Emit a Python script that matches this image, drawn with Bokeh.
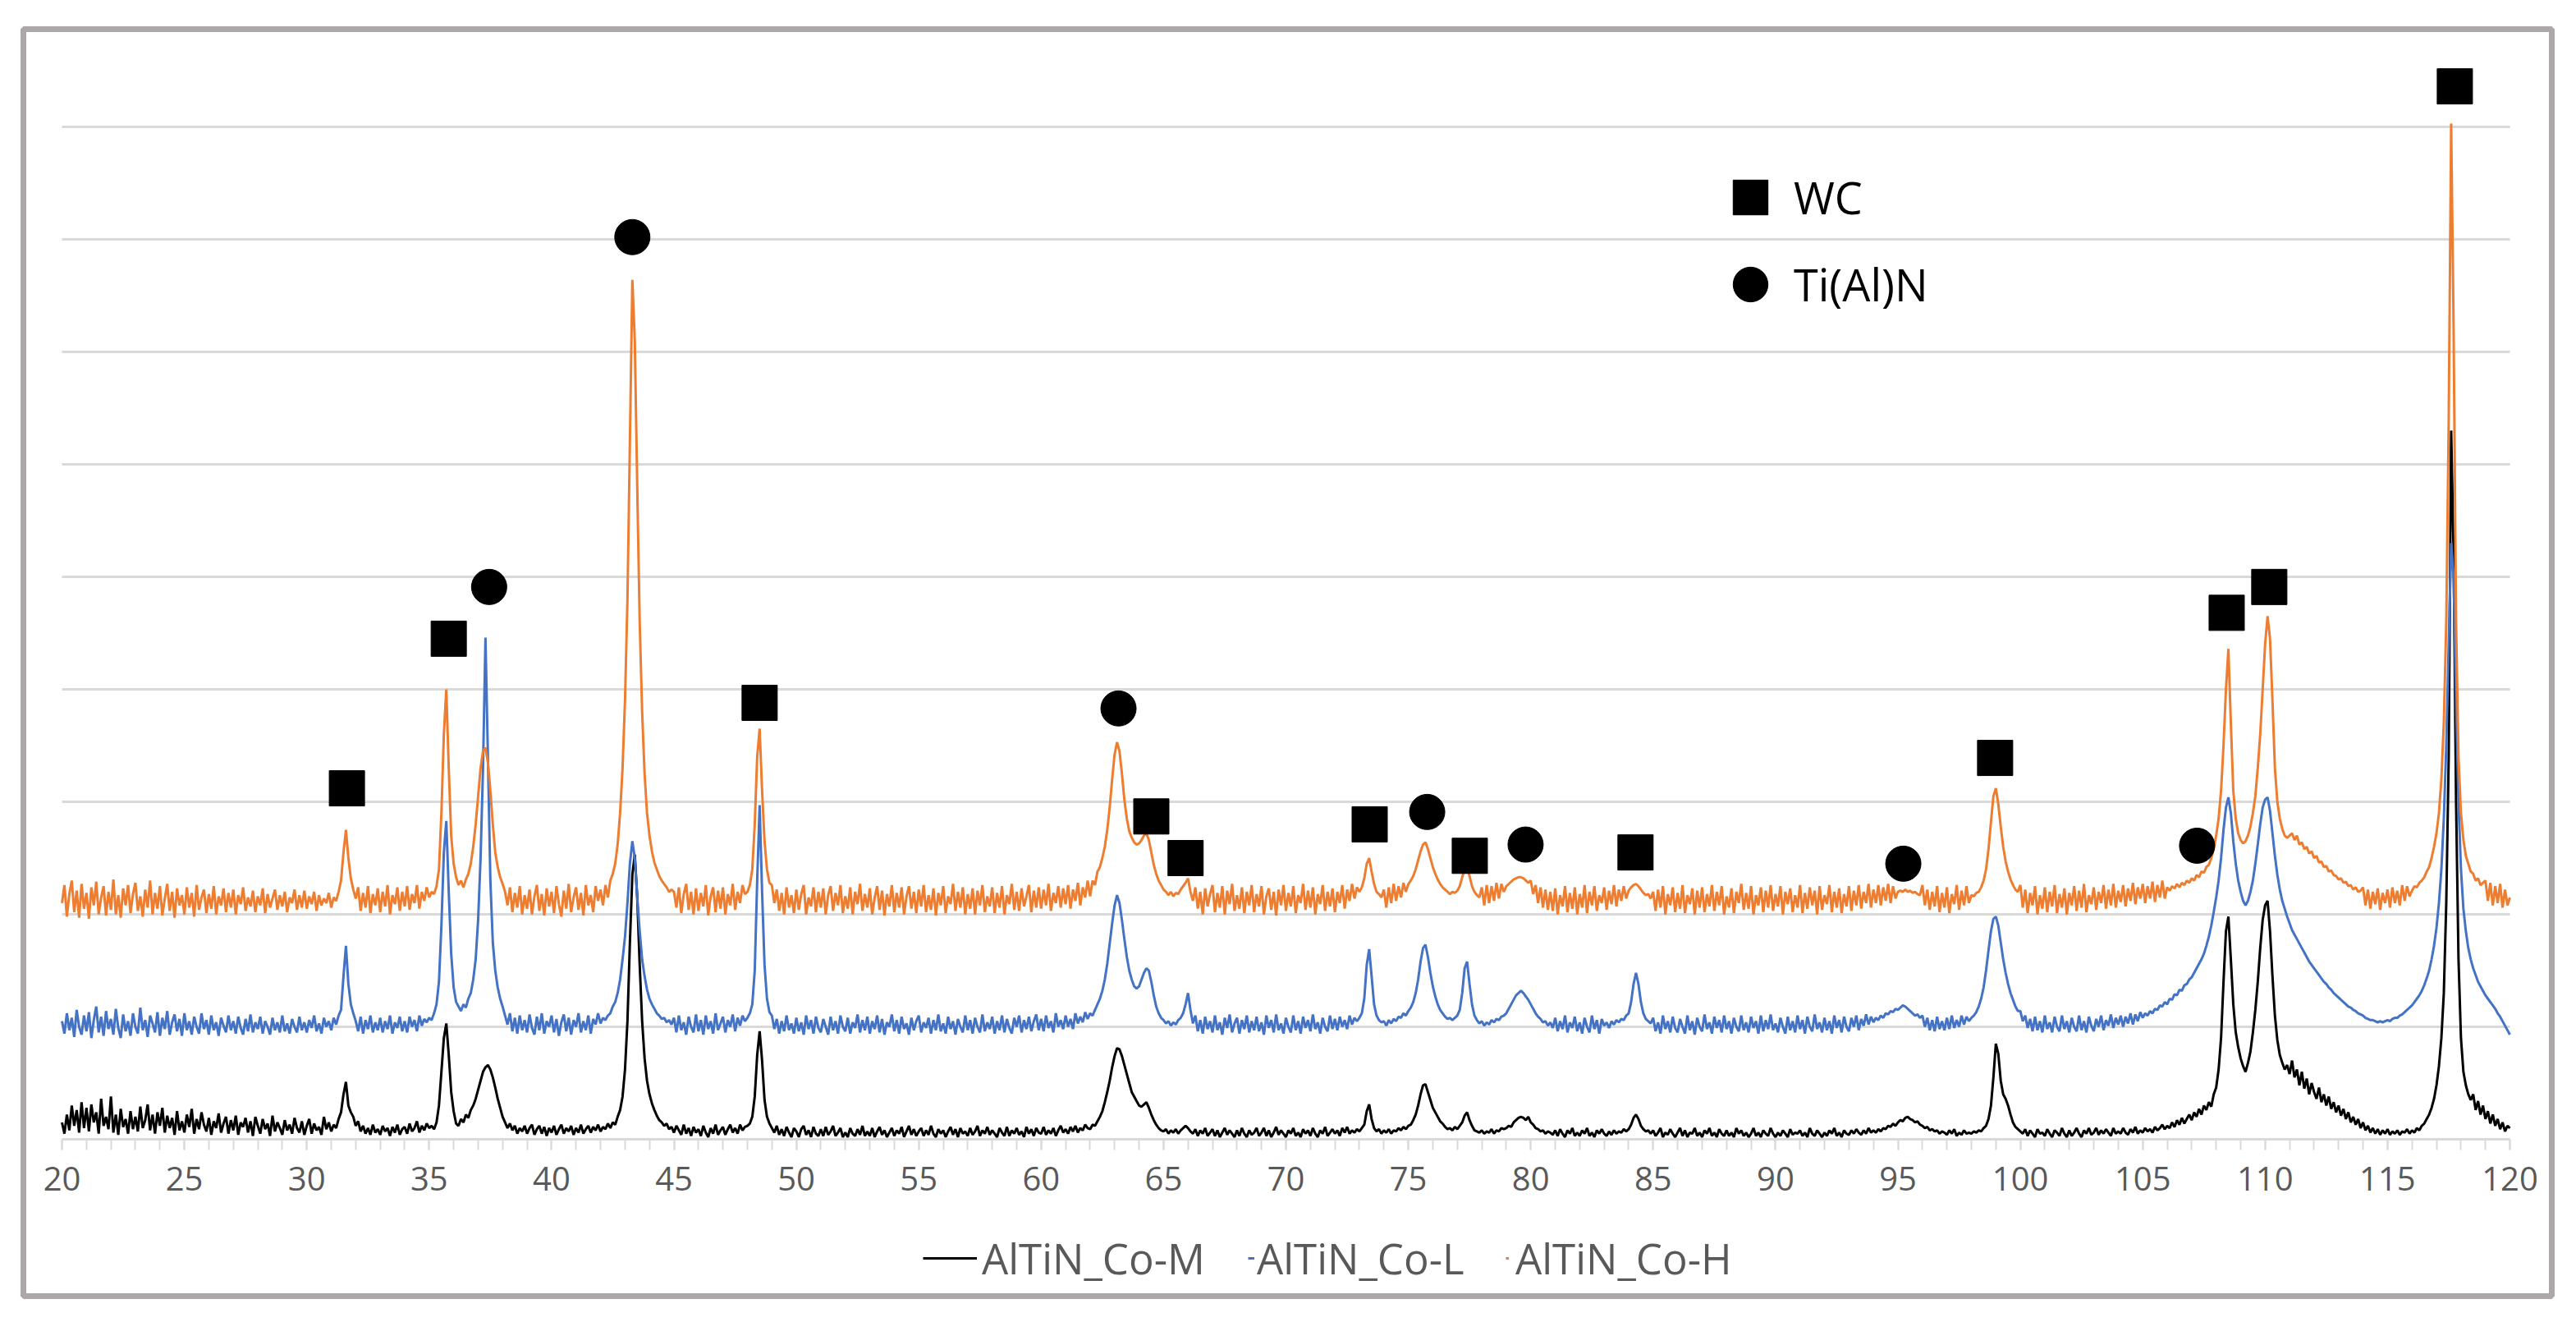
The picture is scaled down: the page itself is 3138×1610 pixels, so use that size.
from bokeh.plotting import figure
from bokeh.models import Range1d, FixedTicker, Legend, LegendItem
from bokeh.embed import file_html
from bokeh.resources import INLINE

# ---------------- data: intensities, 2theta 20..120 step 0.1 ----------------
two_theta_start = 20.0
two_theta_step = 0.1

co_m = [
.15,.05,.22,.08,.30,.12,.26,.06,.33,.10,  # 20
.28,.07,.31,.15,.24,.05,.36,.12,.20,.09,
.38,.06,.22,.04,.27,.11,.18,.05,.25,.09,
.20,.07,.29,.10,.17,.31,.08,.22,.05,.24,
.12,.28,.06,.21,.10,.19,.04,.25,.08,.16,
.06,.22,.11,.27,.05,.18,.09,.24,.13,.07,  # 25
.19,.04,.16,.10,.23,.06,.14,.20,.05,.17,
.08,.21,.04,.15,.11,.19,.06,.16,.03,.20,
.12,.05,.18,.09,.14,.03,.21,.07,.15,.10,
.04,.17,.08,.13,.05,.19,.10,.06,.16,.04,
.12,.18,.05,.14,.08,.11,.04,.20,.09,.15,  # 30
.07,.13,.10,.18,.24,.40,.51,.30,.24,.20,
.12,.16,.07,.12,.05,.10,.04,.13,.06,.09,
.04,.12,.07,.10,.03,.11,.06,.13,.04,.09,
.11,.05,.14,.07,.10,.16,.06,.12,.08,.14,
.10,.12,.09,.15,.30,.60,.90,1.03,.75,.42,  # 35
.25,.14,.12,.18,.15,.22,.19,.26,.30,.36,
.44,.52,.60,.64,.66,.62,.55,.46,.36,.28,
.20,.15,.10,.14,.08,.12,.05,.10,.07,.12,
.05,.10,.13,.04,.09,.12,.05,.11,.03,.10,
.06,.12,.04,.09,.13,.05,.10,.07,.12,.04,  # 40
.10,.06,.13,.05,.09,.12,.06,.11,.08,.13,
.07,.11,.09,.14,.10,.15,.13,.20,.26,.38,
.62,1.05,1.75,2.35,2.53,2.15,1.55,1.05,.72,.52,
.40,.32,.26,.21,.17,.15,.12,.14,.09,.11,
.06,.12,.08,.04,.13,.05,.10,.03,.11,.06,  # 45
.09,.03,.12,.06,.02,.10,.05,.13,.04,.08,
.11,.04,.09,.13,.06,.10,.05,.13,.08,.11,
.12,.14,.20,.38,.75,.96,.70,.35,.20,.14,
.10,.06,.12,.04,.09,.03,.11,.06,.02,.10,
.07,.02,.09,.12,.04,.08,.02,.11,.05,.03,  # 50
.09,.03,.11,.04,.07,.12,.03,.06,.10,.02,
.06,.02,.10,.05,.03,.09,.04,.12,.03,.07,
.03,.10,.02,.07,.11,.04,.08,.02,.06,.10,
.03,.08,.05,.11,.02,.07,.12,.04,.09,.03,
.07,.10,.03,.08,.04,.12,.05,.02,.09,.05,  # 55
.08,.02,.07,.11,.04,.09,.02,.10,.05,.07,
.03,.10,.04,.07,.12,.03,.08,.05,.11,.04,
.08,.05,.02,.10,.06,.03,.11,.03,.08,.05,
.10,.04,.07,.02,.11,.05,.09,.03,.10,.06,
.05,.11,.04,.08,.05,.10,.03,.08,.12,.06,  # 60
.09,.05,.11,.07,.12,.06,.10,.08,.13,.10,
.09,.13,.12,.16,.20,.25,.33,.42,.52,.64,
.74,.81,.80,.74,.66,.58,.50,.42,.38,.34,
.30,.29,.31,.33,.28,.22,.17,.13,.10,.08,
.07,.09,.05,.08,.06,.09,.05,.08,.10,.12,  # 65
.10,.07,.05,.09,.03,.08,.05,.10,.03,.06,
.09,.03,.08,.02,.06,.10,.04,.08,.05,.02,
.08,.03,.10,.05,.02,.08,.04,.06,.10,.03,
.06,.10,.03,.08,.02,.06,.11,.04,.08,.05,
.02,.08,.05,.10,.03,.06,.02,.09,.05,.08,  # 70
.03,.10,.05,.02,.08,.05,.11,.03,.06,.09,
.05,.08,.03,.10,.06,.11,.05,.08,.06,.09,
.07,.10,.13,.25,.31,.18,.10,.07,.09,.05,
.08,.06,.09,.05,.08,.07,.10,.08,.11,.09,
.12,.13,.17,.22,.30,.40,.48,.49,.42,.35,  # 75
.28,.24,.20,.16,.14,.11,.09,.10,.08,.11,
.09,.12,.15,.21,.24,.17,.12,.08,.07,.06,
.08,.05,.07,.06,.09,.05,.08,.07,.10,.09,
.10,.12,.11,.15,.17,.19,.20,.19,.17,.20,
.15,.13,.10,.09,.07,.08,.05,.07,.06,.04,  # 80
.08,.03,.09,.05,.02,.08,.05,.10,.03,.06,
.03,.08,.05,.10,.03,.06,.02,.08,.05,.09,
.05,.03,.07,.04,.08,.05,.07,.06,.09,.07,
.09,.13,.19,.22,.18,.12,.09,.07,.08,.05,
.08,.03,.06,.10,.02,.06,.04,.09,.05,.02,  # 85
.06,.10,.03,.08,.02,.06,.05,.10,.03,.06,
.02,.08,.05,.10,.03,.06,.02,.09,.05,.03,
.08,.03,.06,.02,.10,.05,.08,.03,.06,.02,
.05,.10,.03,.06,.02,.08,.05,.03,.10,.05,
.02,.06,.03,.08,.05,.02,.09,.04,.06,.05,  # 90
.08,.03,.06,.02,.10,.05,.03,.08,.05,.02,
.06,.03,.08,.05,.10,.03,.06,.02,.08,.05,
.04,.08,.05,.09,.06,.04,.08,.05,.10,.06,
.08,.06,.09,.07,.10,.09,.12,.11,.14,.12,
.15,.17,.16,.19,.20,.18,.17,.15,.16,.13,  # 95
.12,.10,.11,.08,.09,.07,.08,.05,.07,.06,
.04,.08,.05,.09,.03,.06,.04,.08,.05,.06,
.05,.07,.06,.08,.07,.10,.12,.18,.30,.55,
.85,.76,.52,.40,.36,.30,.22,.15,.11,.09,
.07,.05,.09,.03,.08,.05,.02,.09,.05,.06,  # 100
.03,.09,.05,.02,.08,.06,.03,.10,.05,.02,
.08,.03,.06,.10,.05,.02,.08,.05,.10,.04,
.06,.10,.04,.08,.05,.09,.06,.03,.10,.05,
.07,.05,.10,.06,.04,.09,.06,.11,.05,.08,
.06,.10,.07,.09,.06,.11,.08,.10,.13,.09,  # 105
.12,.10,.15,.11,.17,.13,.19,.14,.18,.22,
.17,.24,.20,.27,.22,.30,.26,.33,.29,.40,
.46,.62,.90,1.40,1.85,1.98,1.60,1.20,.95,.82,
.72,.65,.60,.68,.78,.95,1.15,1.40,1.70,1.95,
2.08,2.12,1.85,1.45,1.10,.88,.75,.68,.62,.66,  # 110
.58,.70,.55,.62,.48,.60,.45,.54,.40,.50,
.42,.36,.46,.33,.40,.30,.38,.27,.33,.24,
.30,.21,.27,.18,.24,.15,.20,.13,.18,.10,
.15,.08,.12,.06,.10,.05,.09,.04,.08,.05,
.09,.04,.07,.05,.08,.04,.07,.06,.09,.05,  # 115
.08,.06,.10,.08,.12,.14,.18,.22,.28,.36,
.48,.65,.90,1.30,2.10,3.40,6.30,5.20,3.00,1.60,
.90,.60,.48,.40,.35,.40,.26,.34,.22,.30,
.18,.25,.14,.22,.12,.18,.09,.15,.07,.12,
.10]  # 120

co_l = [
1.05,.94,1.12,.97,1.08,.91,1.15,1.0,.93,1.1,  # 20
.96,1.13,.9,1.06,1.18,.95,1.09,.92,1.14,.98,
1.07,.93,1.16,.99,.9,1.11,.96,1.05,.92,1.12,
1.0,.94,1.17,.97,1.06,.91,1.1,1.03,.95,1.13,
.92,1.08,.98,1.14,.93,1.04,1.11,.96,1.07,.92,
1.12,.97,1.05,.93,1.09,1.0,.94,1.12,.98,1.06,  # 25
.93,1.1,.97,1.04,.92,1.08,1.01,.95,1.1,.97,
1.05,.94,1.09,.99,.93,1.07,.96,1.11,.95,1.04,
.98,1.09,.94,1.05,1.0,.93,1.08,.97,1.04,.95,
1.1,.96,1.03,.94,1.07,1.0,.95,1.09,.97,1.04,
.95,1.06,.99,1.1,.96,1.03,.94,1.08,1.0,1.05,  # 30
.97,1.08,1.02,1.1,1.15,1.45,1.72,1.38,1.2,1.12,
1.05,.96,1.09,.94,1.06,.98,1.1,.95,1.04,.97,
1.08,.95,1.05,.98,1.1,.94,1.04,.99,1.09,.96,
1.05,.95,1.09,1.0,1.06,.96,1.1,1.01,1.07,1.04,
1.08,1.06,1.12,1.2,1.4,1.9,2.55,2.83,2.2,1.65,  # 35
1.35,1.22,1.18,1.14,1.2,1.17,1.25,1.3,1.42,1.6,
1.95,2.5,3.3,4.46,3.4,2.3,1.75,1.5,1.35,1.25,
1.18,1.1,1.02,1.12,.96,1.08,.94,1.1,.97,1.06,
.95,1.11,.99,.93,1.09,.97,1.12,.94,1.05,1.0,
1.1,.95,1.07,.92,1.04,1.11,.96,1.08,.93,1.06,  # 40
1.0,1.12,.95,1.05,.97,1.1,.94,1.07,1.02,1.12,
1.03,1.08,1.06,1.1,1.12,1.18,1.22,1.3,1.42,1.6,
1.8,2.1,2.45,2.65,2.5,2.15,1.85,1.6,1.45,1.33,
1.25,1.2,1.16,1.12,1.1,1.07,1.08,1.04,1.06,1.02,
1.08,.95,1.1,.97,1.04,.93,1.09,1.0,.95,1.11,  # 45
.96,1.06,.93,1.1,.98,1.05,.94,1.12,.97,1.03,
1.09,.95,1.06,1.0,1.11,.96,1.08,1.01,1.1,1.05,
1.08,1.12,1.2,1.5,2.3,2.97,2.2,1.55,1.25,1.13,
1.1,.98,1.07,.94,1.05,.96,1.1,.97,1.03,.94,
1.08,.96,1.04,.93,1.1,.98,1.06,.94,1.09,.99,  # 50
.95,1.07,1.0,.93,1.09,.97,1.05,.94,1.1,1.0,
.96,1.08,.94,1.04,.99,1.11,.95,1.06,.97,1.09,
.94,1.05,.98,1.1,.95,1.07,.93,1.04,1.0,1.11,
.96,1.06,.94,1.09,.98,1.03,.93,1.08,.97,1.05,
1.1,.95,1.04,.99,1.08,.94,1.06,.97,1.11,.96,  # 55
1.03,.94,1.09,.98,1.05,.93,1.07,1.0,.95,1.1,
.97,1.06,.94,1.08,1.0,.95,1.11,.96,1.04,.98,
1.09,.94,1.05,.97,1.1,.95,1.07,.99,.94,1.08,
1.0,1.1,.95,1.06,.98,1.09,.96,1.05,1.11,.97,
1.07,.96,1.1,.99,1.05,.95,1.12,1.0,1.06,.98,  # 60
1.1,1.0,1.07,.98,1.12,1.03,1.09,1.04,1.13,1.07,
1.12,1.1,1.15,1.2,1.25,1.32,1.42,1.56,1.74,1.92,
2.08,2.17,2.1,1.95,1.78,1.62,1.5,1.42,1.36,1.34,
1.36,1.42,1.48,1.52,1.5,1.4,1.28,1.18,1.12,1.08,
1.06,1.03,1.05,1.01,1.04,1.02,1.06,1.08,1.12,1.2,  # 65
1.3,1.15,1.03,1.1,.96,1.06,.94,1.09,.98,1.05,
.95,1.1,.97,1.04,.93,1.08,.99,1.11,.95,1.03,
1.08,.94,1.06,.98,1.1,.95,1.05,.97,1.09,.96,
1.04,.93,1.1,.99,1.06,.95,1.11,.97,1.03,.94,
1.08,1.0,.95,1.1,.97,1.05,.94,1.09,.99,1.06,  # 70
.96,1.11,.98,1.04,.94,1.08,1.0,.96,1.1,.98,
1.07,.97,1.09,1.0,1.06,.98,1.1,1.02,1.08,1.05,
1.08,1.12,1.25,1.55,1.69,1.45,1.2,1.1,1.06,1.04,
1.05,1.01,1.06,1.03,1.07,1.05,1.09,1.08,1.12,1.1,
1.14,1.17,1.22,1.3,1.42,1.58,1.7,1.73,1.62,1.48,  # 75
1.36,1.27,1.2,1.15,1.12,1.09,1.07,1.08,1.06,1.08,
1.1,1.15,1.3,1.52,1.58,1.38,1.2,1.1,1.06,1.03,
1.05,1.01,1.04,1.02,1.06,1.04,1.07,1.06,1.09,1.1,
1.12,1.16,1.2,1.24,1.28,1.3,1.32,1.3,1.27,1.24,
1.2,1.16,1.12,1.09,1.07,1.04,1.05,1.01,1.04,.99,  # 80
1.08,.96,1.05,.98,1.1,.95,1.04,.99,1.09,.96,
1.04,.94,1.08,1.0,.95,1.1,.98,1.06,.94,1.07,
1.01,1.04,.99,1.05,1.02,1.06,1.04,1.07,1.06,1.1,
1.12,1.22,1.38,1.48,1.38,1.22,1.12,1.07,1.05,1.03,
1.08,.96,1.04,.94,1.1,.98,1.05,.95,1.09,.99,  # 85
.95,1.07,1.0,.94,1.1,.97,1.05,.93,1.08,1.0,
.96,1.11,.98,1.04,.94,1.09,.99,1.06,.95,1.1,
.98,1.05,.94,1.08,1.0,.96,1.1,.97,1.04,.95,
1.09,.99,1.05,.94,1.1,.96,1.06,.98,1.11,.97,
1.03,.95,1.08,1.0,.94,1.09,.97,1.05,.95,1.1,  # 90
.98,1.06,.94,1.09,1.0,.96,1.11,.98,1.04,.95,
1.08,.97,1.05,.94,1.1,.99,1.06,.95,1.09,1.0,
.96,1.08,1.0,1.1,.97,1.07,1.01,1.11,1.02,1.09,
1.04,1.08,1.06,1.1,1.08,1.12,1.11,1.14,1.13,1.16,
1.15,1.17,1.19,1.18,1.16,1.14,1.12,1.1,1.11,1.08,  # 95
1.1,1.0,1.08,.97,1.06,.96,1.09,.98,1.05,.97,
1.08,.98,1.1,.99,1.06,1.0,1.1,1.02,1.09,1.05,
1.08,1.1,1.13,1.18,1.25,1.35,1.5,1.68,1.85,1.96,
1.98,1.9,1.75,1.6,1.48,1.38,1.3,1.24,1.18,1.14,
1.14,1.05,1.1,.99,1.07,.96,1.09,.97,1.05,.95,  # 100
1.1,.98,1.04,.95,1.09,1.0,.96,1.1,.98,1.05,
.95,1.08,1.0,.96,1.1,.97,1.05,.95,1.09,1.01,
.96,1.07,1.0,1.1,.97,1.06,1.01,1.11,.99,1.08,
1.02,1.1,1.0,1.09,1.03,1.12,1.02,1.11,1.05,1.13,
1.08,1.12,1.1,1.14,1.12,1.16,1.15,1.19,1.18,1.22,  # 105
1.2,1.25,1.24,1.29,1.28,1.33,1.32,1.37,1.38,1.42,
1.44,1.48,1.52,1.56,1.6,1.65,1.72,1.8,1.9,2.02,
2.15,2.3,2.5,2.75,2.95,3.04,2.9,2.65,2.45,2.3,
2.2,2.12,2.08,2.12,2.2,2.3,2.45,2.62,2.8,2.95,
3.02,3.04,2.92,2.72,2.52,2.35,2.22,2.12,2.05,1.98,  # 110
1.92,1.86,1.82,1.78,1.74,1.7,1.66,1.62,1.58,1.55,
1.52,1.49,1.46,1.43,1.4,1.38,1.35,1.33,1.3,1.28,
1.26,1.24,1.22,1.2,1.18,1.17,1.15,1.14,1.12,1.11,
1.1,1.08,1.07,1.06,1.06,1.05,1.04,1.05,1.04,1.05,
1.06,1.05,1.07,1.08,1.08,1.1,1.11,1.13,1.15,1.17,  # 115
1.19,1.22,1.25,1.28,1.32,1.37,1.43,1.5,1.6,1.72,
1.88,2.1,2.4,2.85,3.5,4.4,5.3,5.0,3.9,3.0,
2.4,2.05,1.85,1.7,1.6,1.52,1.46,1.4,1.36,1.32,
1.28,1.25,1.22,1.19,1.16,1.12,1.09,1.05,1.01,.97,
.93]  # 120

co_h = [
2.1,2.26,1.98,2.18,2.3,2.02,2.21,1.97,2.27,2.05,  # 20
2.19,1.96,2.24,2.08,2.29,2.0,2.15,2.25,1.99,2.2,
2.04,2.31,2.0,2.17,1.97,2.23,2.08,2.26,2.01,2.18,
2.28,2.03,2.16,1.98,2.22,2.06,2.3,2.0,2.19,2.05,
2.25,1.99,2.14,2.27,2.03,2.2,1.97,2.23,2.08,2.17,
2.0,2.24,2.06,2.19,1.98,2.26,2.04,2.15,2.22,2.01,  # 25
2.18,2.05,2.25,2.0,2.16,2.08,2.23,2.02,2.19,2.06,
2.22,2.0,2.17,2.09,2.24,2.03,2.15,2.07,2.21,2.02,
2.16,2.08,2.23,2.01,2.18,2.06,2.14,2.22,2.04,2.17,
2.07,2.2,2.02,2.15,2.1,2.22,2.04,2.17,2.06,2.21,
2.05,2.16,2.09,2.2,2.03,2.17,2.08,2.14,2.1,2.19,  # 30
2.06,2.15,2.12,2.2,2.3,2.55,2.75,2.5,2.32,2.22,
2.14,2.24,2.03,2.19,2.06,2.25,2.01,2.18,2.08,2.23,
2.02,2.2,2.07,2.26,2.0,2.17,2.09,2.24,2.03,2.2,
2.07,2.25,2.04,2.18,2.1,2.26,2.05,2.2,2.12,2.24,
2.15,2.2,2.18,2.25,2.4,2.9,3.6,4.0,3.3,2.7,  # 35
2.45,2.33,2.26,2.3,2.24,2.31,2.36,2.45,2.6,2.8,
3.05,3.3,3.45,3.48,3.35,3.1,2.8,2.55,2.42,2.33,
2.27,2.2,2.08,2.24,2.02,2.19,2.06,2.25,2.0,2.17,
2.05,2.22,2.0,2.16,2.26,2.03,2.18,1.99,2.23,2.07,
2.2,2.01,2.25,2.09,1.98,2.21,2.05,2.27,2.02,2.15,  # 40
2.24,2.04,2.19,1.99,2.26,2.08,2.17,2.02,2.25,2.12,
2.22,2.08,2.26,2.15,2.3,2.36,2.45,2.62,2.9,3.3,
3.9,4.8,6.2,7.64,7.1,5.8,4.6,3.8,3.25,2.9,
2.7,2.56,2.46,2.4,2.34,2.3,2.27,2.24,2.2,2.22,
2.2,2.06,2.24,2.01,2.18,2.27,2.04,2.2,2.0,2.23,  # 45
2.03,2.19,2.07,2.26,1.99,2.16,2.24,2.02,2.21,2.05,
2.24,2.0,2.18,2.08,2.27,2.04,2.2,2.1,2.26,2.18,
2.2,2.26,2.4,2.8,3.4,3.65,3.1,2.65,2.4,2.28,
2.26,2.1,2.22,2.03,2.19,2.0,2.24,2.06,2.17,2.01,
2.22,2.04,2.18,2.26,2.0,2.15,2.07,2.24,2.02,2.2,  # 50
2.06,2.23,2.0,2.17,2.25,2.03,2.19,2.08,2.26,2.01,
2.16,2.05,2.24,2.0,2.2,2.09,2.27,2.03,2.18,2.06,
2.23,2.0,2.15,2.25,2.04,2.21,1.99,2.18,2.07,2.26,
2.02,2.19,2.06,2.24,2.0,2.16,2.25,2.05,2.2,2.01,
2.22,2.07,2.26,2.02,2.17,2.04,2.23,1.99,2.19,2.08,  # 55
2.25,2.01,2.16,2.09,2.27,2.03,2.2,2.06,2.24,2.0,
2.18,2.05,2.23,2.0,2.21,2.08,2.26,2.02,2.16,2.07,
2.24,2.01,2.19,2.06,2.25,2.0,2.17,2.09,2.27,2.04,
2.2,2.03,2.23,2.07,2.16,2.26,2.02,2.21,2.06,2.24,
2.05,2.22,2.08,2.27,2.03,2.19,2.1,2.25,2.06,2.23,  # 60
2.09,2.26,2.05,2.22,2.12,2.28,2.08,2.24,2.15,2.3,
2.16,2.3,2.26,2.38,2.42,2.5,2.6,2.75,2.95,3.2,
3.42,3.53,3.45,3.25,3.02,2.85,2.74,2.68,2.64,2.62,
2.63,2.66,2.7,2.72,2.66,2.55,2.44,2.36,2.3,2.26,
2.22,2.2,2.17,2.2,2.16,2.19,2.18,2.22,2.25,2.28,  # 65
2.32,2.2,2.12,2.24,2.05,2.2,2.0,2.23,2.07,2.18,
2.26,2.02,2.19,2.06,2.25,2.0,2.21,2.09,2.27,2.03,
2.17,2.05,2.24,2.01,2.2,2.08,2.26,2.02,2.18,2.07,
2.25,2.0,2.16,2.23,2.04,2.2,1.99,2.22,2.08,2.26,
2.03,2.19,2.07,2.25,2.01,2.17,2.1,2.27,2.04,2.21,  # 70
2.06,2.24,2.0,2.18,2.09,2.26,2.03,2.2,2.07,2.23,
2.02,2.2,2.1,2.26,2.05,2.22,2.12,2.27,2.14,2.24,
2.2,2.24,2.32,2.45,2.5,2.38,2.27,2.2,2.18,2.15,
2.22,2.06,2.24,2.1,2.27,2.12,2.25,2.15,2.28,2.2,
2.27,2.3,2.34,2.4,2.48,2.56,2.62,2.64,2.58,2.5,  # 75
2.42,2.36,2.31,2.27,2.24,2.22,2.2,2.18,2.2,2.19,
2.21,2.25,2.33,2.4,2.42,2.34,2.25,2.2,2.17,2.15,
2.24,2.08,2.26,2.1,2.25,2.12,2.28,2.14,2.27,2.2,
2.25,2.27,2.29,2.31,2.32,2.33,2.33,2.32,2.3,2.28,
2.3,2.18,2.26,2.1,2.24,2.06,2.22,2.04,2.2,2.03,  # 80
2.23,2.0,2.17,2.07,2.25,2.02,2.19,2.05,2.24,2.0,
2.18,2.06,2.26,2.01,2.2,2.08,2.25,2.03,2.17,2.1,
2.24,2.04,2.21,2.09,2.26,2.07,2.22,2.12,2.25,2.14,
2.21,2.24,2.26,2.27,2.25,2.22,2.19,2.17,2.18,2.14,
2.2,2.03,2.22,2.06,2.25,2.0,2.18,2.08,2.24,2.02,  # 85
2.19,2.05,2.26,2.01,2.17,2.09,2.23,2.0,2.21,2.06,
2.24,2.02,2.18,2.07,2.26,2.03,2.2,2.08,2.25,2.0,
2.16,2.06,2.23,2.01,2.2,2.1,2.27,2.04,2.19,2.05,
2.25,2.0,2.17,2.08,2.24,2.02,2.21,2.06,2.26,2.03,
2.18,2.07,2.25,2.0,2.2,2.09,2.23,2.02,2.17,2.06,  # 90
2.26,2.01,2.19,2.05,2.24,2.08,2.21,2.0,2.25,2.04,
2.17,2.09,2.26,2.02,2.2,2.06,2.23,2.01,2.18,2.07,
2.25,2.03,2.21,2.08,2.26,2.05,2.2,2.1,2.27,2.06,
2.22,2.1,2.26,2.08,2.24,2.12,2.27,2.1,2.25,2.14,
2.2,2.21,2.2,2.22,2.2,2.21,2.19,2.2,2.18,2.17,  # 95
2.26,2.08,2.22,2.04,2.2,2.07,2.25,2.02,2.19,2.06,
2.24,2.01,2.18,2.09,2.26,2.04,2.21,2.08,2.25,2.1,
2.17,2.16,2.19,2.2,2.24,2.3,2.4,2.58,2.82,3.05,
3.12,2.98,2.78,2.6,2.47,2.38,2.31,2.26,2.22,2.2,
2.26,2.06,2.22,2.01,2.19,2.08,2.25,2.0,2.17,2.05,  # 100
2.24,2.02,2.2,2.07,2.26,2.01,2.18,2.06,2.23,2.0,
2.19,2.08,2.25,2.03,2.21,2.06,2.27,2.02,2.17,2.09,
2.24,2.04,2.2,2.1,2.26,2.05,2.22,2.08,2.27,2.06,
2.21,2.11,2.26,2.07,2.23,2.12,2.28,2.09,2.24,2.14,
2.27,2.1,2.25,2.14,2.29,2.11,2.26,2.15,2.3,2.14,  # 105
2.24,2.21,2.25,2.23,2.27,2.24,2.28,2.26,2.3,2.28,
2.32,2.3,2.35,2.33,2.38,2.37,2.42,2.44,2.5,2.58,
2.7,2.85,3.1,3.5,4.0,4.36,3.7,3.1,2.85,2.72,
2.66,2.63,2.65,2.7,2.78,2.9,3.05,3.3,3.6,4.0,
4.4,4.65,4.45,3.9,3.3,3.0,2.85,2.76,2.7,2.68,  # 110
2.7,2.72,2.66,2.7,2.62,2.64,2.58,2.6,2.54,2.56,
2.5,2.52,2.46,2.47,2.42,2.43,2.38,2.39,2.35,2.34,
2.31,2.32,2.28,2.29,2.25,2.26,2.22,2.24,2.2,2.21,
2.24,2.08,2.22,2.05,2.2,2.09,2.23,2.04,2.19,2.1,
2.22,2.06,2.24,2.1,2.21,2.08,2.26,2.12,2.25,2.16,  # 115
2.21,2.25,2.24,2.28,2.3,2.33,2.38,2.42,2.5,2.6,
2.72,2.9,3.2,3.7,4.6,6.4,9.03,7.2,4.6,3.4,
2.9,2.66,2.52,2.45,2.38,2.36,2.3,2.32,2.26,2.28,
2.3,2.12,2.28,2.08,2.25,2.1,2.27,2.06,2.22,2.08,
2.15]  # 120

series_names = ["AlTiN_Co-M", "AlTiN_Co-L", "AlTiN_Co-H"]
series_colors = ["#000000", "#4472C4", "#ED7D31"]

wc_x = [31.64, 35.8, 48.5, 64.5, 65.9, 73.42, 77.51, 84.28, 98.97, 108.43, 110.17, 117.75]
wc_y = [3.12, 4.45, 3.88, 2.87, 2.50, 2.80, 2.52, 2.55, 3.39, 4.68, 4.91, 9.36]
tialn_x = [37.45, 43.3, 63.16, 75.77, 79.79, 95.22, 107.22]
tialn_y = [4.91, 8.02, 3.83, 2.91, 2.62, 2.45, 2.61]
phase_labels = ["WC", "Ti(Al)N"]

x_ticks = list(range(20, 121, 5))
x_minor = list(range(20, 121, 1))
grid_levels = [1, 2, 3, 4, 5, 6, 7, 8, 9]

# ---------------- layout (pixels) ----------------
W, H = 3138, 1610
FL, FR, FT, FB = 28, 3108, 35, 1578          # frame = grey border line
X20, X120 = 75, 3057                          # pixel of x=20 and x=120
Y0, UNIT = 1387, 137.0                        # pixel of y=0, px per unit
sx = (X120 - X20) / 100.0
x_lo = 20 - (X20 - FL) / sx
x_hi = 120 + (FR - X120) / sx
y_lo = -(FB - Y0) / UNIT
y_hi = (Y0 - FT) / UNIT

p = figure(width=W, height=H, output_backend="svg", toolbar_location=None,
           x_range=Range1d(x_lo, x_hi), y_range=Range1d(y_lo, y_hi),
           min_border_left=FL, min_border_right=W - FR,
           min_border_top=FT, min_border_bottom=H - FB,
           background_fill_color="white", border_fill_color="white",
           outline_line_color="#ABA8A7", outline_line_width=7)

p.xgrid.visible = False
p.ygrid.visible = False
p.yaxis.visible = False

ax = p.xaxis[0]
ax.fixed_location = 0
ax.bounds = (20, 120)
ax.level = "underlay"
ax.ticker = FixedTicker(ticks=x_ticks, minor_ticks=x_minor)
ax.axis_line_color = "#D9D9D9"
ax.axis_line_width = 3
ax.major_tick_line_color = "#D9D9D9"
ax.major_tick_line_width = 2
ax.major_tick_out = 13
ax.major_tick_in = 0
ax.minor_tick_line_color = "#D9D9D9"
ax.minor_tick_line_width = 2
ax.minor_tick_out = 13
ax.minor_tick_in = 0
ax.major_label_text_font = "Open Sans"
ax.major_label_text_font_size = "40px"
ax.major_label_text_color = "#595959"
ax.major_label_standoff = 20

# horizontal gridlines limited to the data span
p.segment(x0=[x_ticks[0]] * len(grid_levels), y0=grid_levels,
          x1=[x_ticks[-1]] * len(grid_levels), y1=grid_levels,
          line_color="#D9D9D9", line_width=3)

renderers = []
for ys, col in zip([co_m, co_l, co_h], series_colors):
    xs = [round(two_theta_start + i * two_theta_step, 2) for i in range(len(ys))]
    renderers.append(p.line(xs, ys, line_color=col, line_width=3))

r_wc = p.scatter(wc_x, wc_y, marker="square", size=43, fill_color="black", line_color="black")
r_ti = p.scatter(tialn_x, tialn_y, marker="circle", size=43, fill_color="black", line_color="black")

def add_legend(items, loc, **kw):
    lg = Legend(items=items, location=loc, padding=0, margin=0, spacing=0,
                border_line_color=None, background_fill_alpha=0,
                label_text_font="Open Sans", **kw)
    p.add_layout(lg, "center")
    return lg

# bottom series legend (three separate pieces to mimic Excel's key sizes)
leg_x = [1096, 1492, 1806]
glyph_w = [66, 8, 4]
standoff = [6, 3, 8]
for i in range(3):
    add_legend([LegendItem(label=series_names[i], renderers=[renderers[i]])],
               (leg_x[i], 11), orientation="horizontal",
               glyph_width=glyph_w[i], glyph_height=70, label_height=70,
               label_standoff=standoff[i],
               label_text_font_size="51px", label_text_color="#595959")

# phase key
add_legend([LegendItem(label=phase_labels[0], renderers=[r_wc]),
            LegendItem(label=phase_labels[1], renderers=[r_ti])],
           (2051, 1179), orientation="vertical",
           glyph_width=106, glyph_height=106, label_height=106,
           label_standoff=0, label_text_font_size="54px", label_text_color="#000000")

open("out.html", "w").write(file_html(p, INLINE, "XRD"))
